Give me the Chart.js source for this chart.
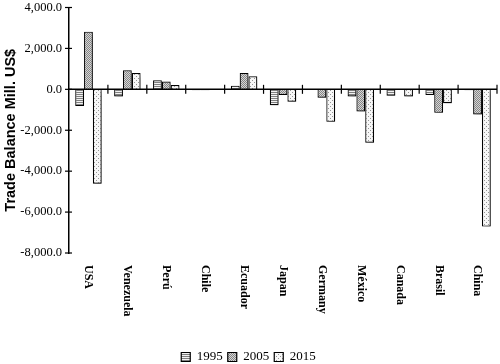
<!DOCTYPE html>
<html>
<head>
<meta charset="utf-8">
<script src="https://cdn.jsdelivr.net/npm/chart.js@4/dist/chart.umd.min.js"></script>
<style>
  html, body { margin: 0; padding: 0; background: #fff; }
  #wrap { width: 500px; height: 364px; }
</style>
</head>
<body>
<div id="wrap"><canvas id="trade_chart"></canvas></div>
<script>
const countries = ['USA', 'Venezuela', 'Perú', 'Chile', 'Ecuador', 'Japan', 'Germany', 'México', 'Canada', 'Brasil', 'China'];
const years = ['1995', '2005', '2015'];
const balance1995 = [-820, -345, 445, -40, 180, -780, -30, -345, -310, -280, -50];
const balance2005 = [2820, 935, 380, -40, 800, -280, -410, -1085, -20, -1150, -1230];
const balance2015 = [-4610, 800, 210, -10, 640, -605, -1590, -2610, -345, -675, -6710];
const yTicks = [4000, 2000, 0, -2000, -4000, -6000, -8000];

// small fill patterns like the excel ones
function makePattern(kind) {
  const c = document.createElement('canvas');
  const x = c.getContext('2d');
  if (kind === 'stripes') {
    c.width = 2; c.height = 2;
    x.fillStyle = '#f2f2f2'; x.fillRect(0, 0, 2, 2);
    x.fillStyle = '#7f7f7f'; x.fillRect(0, 0, 2, 1);
  } else if (kind === 'dense') {
    c.width = 2; c.height = 2;
    x.fillStyle = '#d6d6d6'; x.fillRect(0, 0, 2, 2);
    x.fillStyle = '#858585'; x.fillRect(0, 0, 1, 1); x.fillRect(1, 1, 1, 1);
  } else {
    c.width = 4; c.height = 4;
    x.fillStyle = '#f7f7f7'; x.fillRect(0, 0, 4, 4);
    x.fillStyle = '#959595'; x.fillRect(0, 0, 1, 1); x.fillRect(2, 2, 1, 1);
  }
  return x.createPattern(c, 'repeat');
}

const fmt = v => v.toLocaleString('en-US', { minimumFractionDigits: 1, maximumFractionDigits: 1 });

const barShadow = {
  id: 'barShadow',
  beforeDatasetsDraw(chart) {
    const ctx = chart.ctx;
    ctx.save();
    ctx.shadowColor = 'rgba(0,0,0,0.35)';
    ctx.shadowBlur = 4;
    ctx.shadowOffsetX = 2;
    ctx.shadowOffsetY = 3;
  },
  afterDatasetsDraw(chart) {
    chart.ctx.restore();
  }
};

const axisExtras = {
  id: 'axisExtras',
  afterDraw(chart) {
    const ctx = chart.ctx;
    const xs = chart.scales.x;
    const ys = chart.scales.y;
    const area = chart.chartArea;
    const y0 = ys.getPixelForValue(0);
    const step = xs.getPixelForValue(1) - xs.getPixelForValue(0);
    ctx.save();
    ctx.strokeStyle = '#000';
    // zero line
    ctx.lineWidth = 1.5;
    ctx.beginPath();
    ctx.moveTo(area.left, y0);
    ctx.lineTo(area.right, y0);
    ctx.stroke();
    // crossing ticks between categories
    ctx.lineWidth = 1.2;
    for (let i = 0; i < countries.length; i++) {
      const bx = xs.getPixelForValue(i) + step / 2;
      ctx.beginPath();
      ctx.moveTo(bx, y0 - 4.5);
      ctx.lineTo(bx, y0 + 4.5);
      ctx.stroke();
    }
    // crossing ticks on the value axis
    yTicks.forEach(v => {
      const py = ys.getPixelForValue(v);
      ctx.beginPath();
      ctx.moveTo(area.left - 4, py);
      ctx.lineTo(area.left + 3, py);
      ctx.stroke();
    });
    // rotated category names under the plot
    ctx.fillStyle = '#000';
    ctx.font = 'bold 12px "Liberation Serif"';
    ctx.textAlign = 'left';
    ctx.textBaseline = 'middle';
    countries.forEach((name, i) => {
      ctx.save();
      ctx.translate(xs.getPixelForValue(i), area.bottom + 12);
      ctx.rotate(Math.PI / 2);
      ctx.fillText(name, 0, 0);
      ctx.restore();
    });
    ctx.restore();
  }
};

new Chart('trade_chart', {
  type: 'bar',
  data: {
    labels: countries,
    datasets: [
      { label: years[0], data: balance1995, backgroundColor: makePattern('stripes') },
      { label: years[1], data: balance2005, backgroundColor: makePattern('dense') },
      { label: years[2], data: balance2015, backgroundColor: makePattern('dots') }
    ].map(d => Object.assign(d, {
      borderColor: '#000',
      borderWidth: 1.2,
      categoryPercentage: 0.68,
      barPercentage: 1.0
    }))
  },
  options: {
    responsive: true,
    maintainAspectRatio: false,
    animation: false,
    layout: { padding: { top: 0, right: 3, left: 0, bottom: -9.5 } },
    plugins: {
      legend: {
        position: 'bottom',
        labels: {
          color: '#000',
          font: { family: 'Liberation Serif', size: 13 },
          boxWidth: 9,
          boxHeight: 9,
          padding: 5
        }
      },
      tooltip: { enabled: false }
    },
    scales: {
      x: {
        grid: { display: false, drawTicks: false },
        border: { display: false },
        ticks: { display: false },
        afterFit: s => { s.height = 92.5; }
      },
      y: {
        min: -8000,
        max: 4000,
        afterBuildTicks: s => { s.ticks = yTicks.map(v => ({ value: v })); },
        ticks: {
          color: '#000',
          font: { family: 'Liberation Serif', size: 12.5 },
          padding: 0,
          callback: v => fmt(v)
        },
        // tick marks are drawn by the plugin, tickLength only keeps labels off the axis
        grid: { display: false, drawTicks: true, tickLength: 7 },
        border: { display: true, color: '#000', width: 1.5 },
        title: {
          display: true,
          text: 'Trade Balance Mill. US$',
          color: '#000',
          font: { family: 'Liberation Sans', weight: 'bold', size: 14.5 },
          padding: { top: 2, bottom: 0 }
        },
        afterFit: s => { s.width = 69; }
      }
    }
  },
  plugins: [barShadow, axisExtras]
});
</script>
</body>
</html>
